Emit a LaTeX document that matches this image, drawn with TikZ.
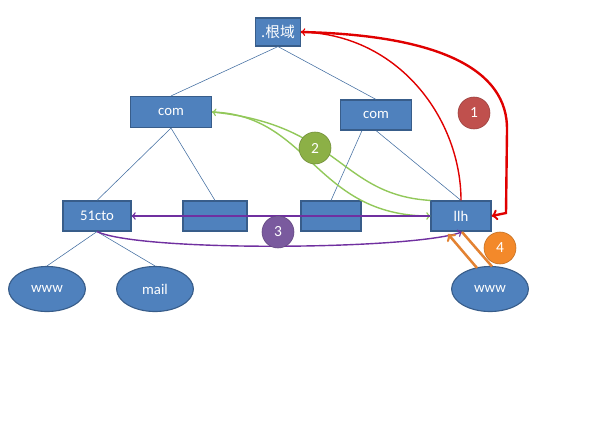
\documentclass[tikz,border=0pt]{standalone}
\usepackage{fontspec}
\setmainfont{Carlito}
\newfontfamily\cjk{Noto Sans CJK SC}
\usetikzlibrary{shapes.geometric}
\definecolor{boxblue}{HTML}{4F81BD}
\definecolor{boxedge}{HTML}{385D8A}
\definecolor{arrred}{HTML}{E00000}
\definecolor{arrgreen}{HTML}{92C85A}
\definecolor{arrpurple}{HTML}{7030A0}
\definecolor{arrorange}{HTML}{E38232}
\definecolor{badgered}{HTML}{C0504D}
\definecolor{badgegreen}{HTML}{8CB046}
\definecolor{badgepurple}{HTML}{7A5A9E}
\definecolor{badgeorange}{HTML}{F3892A}
\begin{document}
\begin{tikzpicture}[x=0.025cm,y=-0.025cm,font=\fontsize{10.5}{12}\selectfont,
  box/.style={draw=boxedge,fill=boxblue,line width=0.8pt,text=white,minimum height=0.75cm,inner sep=0pt},
  host/.style={ellipse,draw=boxedge,fill=boxblue,line width=0.8pt,text=white,minimum width=1.92cm,minimum height=1.125cm,inner sep=0pt},
  badge/.style={circle,draw=#1!80!black,fill=#1,text=white,minimum size=0.8cm,inner sep=0pt,font=\fontsize{11}{12}\selectfont},
  tree/.style={draw=boxblue!85!black,line width=0.4pt}]
\useasboundingbox (0,0) rectangle (589,433);

\draw (278,32) node[box,minimum width=1.125cm,minimum height=0.7cm] (root) {\cjk .根域};
\draw (171,112) node[box,minimum width=2.025cm,minimum height=0.775cm] (com1) {com};
\draw (376,115) node[box,minimum width=1.775cm] (com2) {com};
\draw (97,216) node[box,minimum width=1.7cm] (cto) {51cto};
\draw (215,216) node[box,minimum width=1.6cm] (b1) {};
\draw (331,216) node[box,minimum width=1.5cm] (b2) {};
\draw (461,216) node[box,minimum width=1.5cm] (llh) {llh};
\draw (47,289) node[host] (www1) {www};
\draw (155,289) node[host] (mail) {mail};
\draw (490,289) node[host] (www2) {www};

\draw[tree] (root.south) -- (com1.north);
\draw[tree] (root.south) -- (com2.north);
\draw[tree] (com1.south) -- (cto.north);
\draw[tree] (com1.south) -- (b1.north);
\draw[tree] ([xshift=-0.35cm]com2.south) -- (b2.north);
\draw[tree] (com2.south) -- (llh.north);
\draw[tree] (cto.south) -- (www1.north);
\draw[tree] (cto.south) -- (mail.north);

\coordinate (o1) at (477,268);
\coordinate (o2) at (492,266.5);
\coordinate (o3) at (448,234);
\coordinate (o4) at (462,232);

\draw[->,arrred,line width=1pt] (llh.north) .. controls (461,120) and (400,35) .. (root.east);
\draw[->,arrred,line width=1.7pt] (root.east) .. controls (440,35) and (508,70) .. (507,130) -- (506,213) -- (llh.east);
\draw[->,arrgreen,line width=1pt] (llh.north west) .. controls (340,195) and (340,125) .. (com1.east);
\draw[->,arrgreen,line width=1pt] (com1.east) .. controls (310,115) and (315,216) .. (llh.west);
\draw[->,arrpurple,line width=1pt] (llh.west) -- (cto.east);
\draw[->,arrpurple,line width=1pt] (cto.south) .. controls (140,252) and (410,250) .. (o4);
\draw[->,arrorange,line width=1.8pt] (o1) -- (o3);
\draw[arrorange,line width=1.8pt] (o2) -- (o4);

\draw (474,113) node[badge=badgered] (n1) {1};
\draw (315,148) node[badge=badgegreen] (n2) {2};
\draw (278,232) node[badge=badgepurple] (n3) {3};
\draw (500,248) node[badge=badgeorange] (n4) {4};
\end{tikzpicture}
\end{document}
